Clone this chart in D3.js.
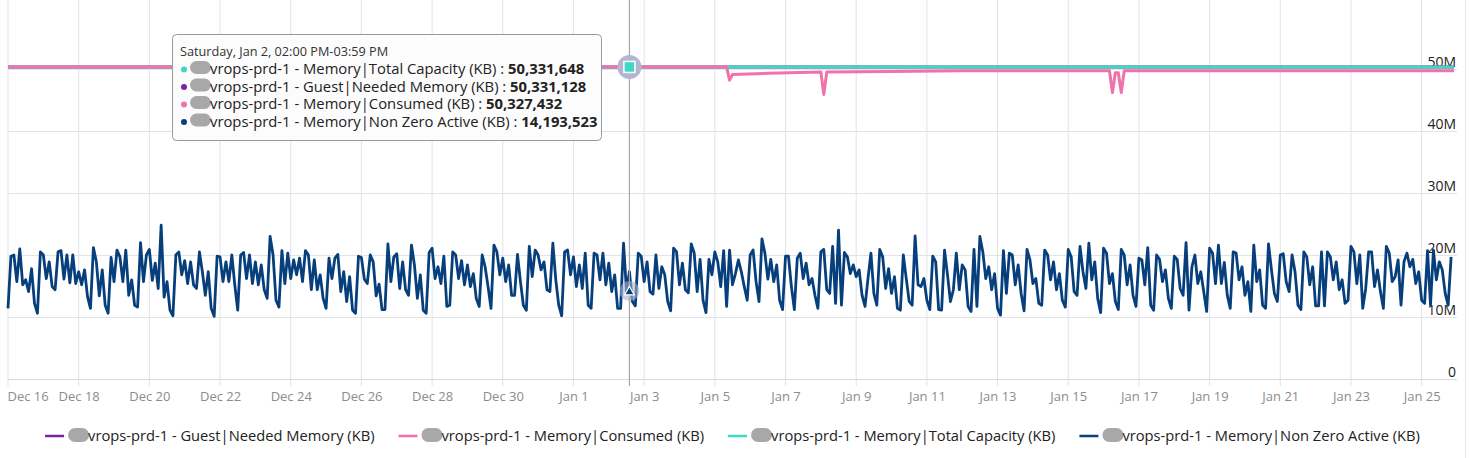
<!DOCTYPE html>
<html>
<head>
<meta charset="utf-8">
<script src="https://cdn.jsdelivr.net/npm/d3@7"></script>
<style>
  body { margin: 0; background: #fff; }
  svg { display: block; font-family: "Open Sans", sans-serif; }
</style>
</head>
<body>
<div id="graph"></div>
<script>
// tick labels along the time axis (Dec 2020 - Jan 2021)
const xTickLabels = ["2020 Dec 16", "2020 Dec 18", "2020 Dec 20", "2020 Dec 22", "2020 Dec 24", "2020 Dec 26",
    "2020 Dec 28", "2020 Dec 30", "2021 Jan 1", "2021 Jan 3", "2021 Jan 5", "2021 Jan 7", "2021 Jan 9",
    "2021 Jan 11", "2021 Jan 13", "2021 Jan 15", "2021 Jan 17", "2021 Jan 19", "2021 Jan 21", "2021 Jan 23", "2021 Jan 25"];
const yTicks = [0, 10, 20, 30, 40, 50]; // millions of KB

// Memory|Non Zero Active (KB), in millions, one sample every 2 hours from Dec 16 00:00
const nonZeroActive = [
    11.4, 19.8, 20, 15.7, 21, 15.2, 16, 14.1, 17.8, 12.2,
    10.6, 20.5, 20, 16.2, 18.9, 14.9, 14.4, 20.5, 20.7, 16.1,
    20, 15.5, 20, 15.4, 17.3, 15.2, 17.6, 13.3, 11.4, 21.2,
    18.9, 13.4, 17.6, 11.9, 10.6, 19.6, 15.7, 20.8, 19.7, 15.7,
    20.8, 13.5, 16, 11.9, 11.6, 22, 15.7, 20, 20.9, 15.9,
    18.7, 14.6, 24.8, 13.2, 15.7, 11.1, 10.2, 20, 20.5, 16.8,
    19.1, 15.4, 18.9, 15.2, 14.6, 20.5, 17.3, 13.5, 17.3, 11.4,
    10.1, 19.8, 19.7, 15.7, 18.9, 15.7, 20, 15.2, 11.1, 20,
    20.4, 16.2, 20, 15.4, 18.9, 15.2, 18.4, 14.4, 13, 23,
    20, 12.7, 11.6, 20.7, 15.4, 20.3, 16.2, 19.2, 16.8, 19.5,
    15.7, 20.7, 20, 14.4, 19.2, 14.4, 16.8, 13, 11.4, 19.5,
    16.2, 19.5, 20.1, 14.1, 17.3, 12.5, 16.5, 11.1, 10.6, 19.8,
    19.6, 16.1, 15.4, 20, 18.9, 13.4, 15.3, 11.2, 11.2, 21.8,
    15.7, 19.7, 20.2, 14.6, 18.9, 14.4, 13.5, 21.6, 18.4, 13,
    16.8, 11.1, 10.6, 20.4, 21.1, 16.2, 18.1, 15.4, 19.8, 11.7,
    11.9, 20.5, 20, 16.2, 19.1, 15.2, 18.4, 14.9, 17, 13,
    11.7, 20, 18.1, 14.9, 11.4, 21.6, 20.5, 16.8, 19.5, 15.7,
    18.4, 13.5, 13.5, 20.1, 15.7, 11.9, 11.1, 21.4, 16.5, 20.8,
    20, 17.6, 18.9, 14.4, 14.1, 21.9, 16, 11.9, 10.2, 20.5,
    20.8, 16.8, 19.7, 14.9, 18.4, 14.6, 20.3, 11.9, 11.4, 20.3,
    20, 16, 20.3, 15.2, 18.7, 14.1, 16.8, 11.4, 11.4, 21.9,
    14.19, 17.3, 12.5, 11.8, 20.3, 19.8, 15.7, 18.9, 14.1,
    13.7, 20, 14.6, 18.1, 16.8, 12.5, 11, 21.1, 20.5, 15.2,
    18.7, 14.4, 13.9, 21.8, 20.3, 14.1, 19.3, 12.7, 10.7, 19.3,
    16.8, 20.5, 18.9, 14.9, 20.7, 11.7, 20.8, 15.2, 17, 19.2,
    17.3, 14.9, 12.7, 20, 20.8, 15.7, 12.5, 22.6, 20.3, 16.1,
    19.3, 15.7, 18.4, 12.7, 11.2, 19.8, 19.8, 14.9, 11.2, 19.5,
    20.3, 16.2, 18.7, 15.2, 16.2, 13.5, 11.4, 20.5, 20.9, 14.4,
    13.8, 21.4, 12.2, 24, 11.9, 20.4, 19.7, 17, 18.4, 16.5,
    17.6, 13.5, 11.7, 16.2, 20.3, 13.8, 11.9, 20.9, 19.7, 14.6,
    17.8, 13.8, 16.5, 11.4, 11.1, 20, 16.2, 12.5, 11.9, 23.1,
    15.2, 14.9, 16.2, 12.7, 11.2, 19.8, 18.9, 11.2, 11.1, 20.8,
    16.8, 12.5, 14.4, 20.3, 14.4, 18.4, 17.6, 11.7, 10.9, 20.9,
    11.7, 23, 20.5, 16.2, 18.1, 14.4, 17, 11.4, 10.3, 20.7,
    13.8, 20.3, 20, 15.2, 18.4, 13.8, 11, 20.9, 19.2, 15.4,
    16.2, 12.2, 11.9, 20.8, 20, 16, 18.9, 14.4, 17, 12.7,
    11.6, 20.9, 19.7, 14.1, 13.5, 21.4, 17.3, 14.6, 21.9, 16,
    18.9, 13, 10.7, 21.1, 20.3, 15.4, 17, 12.5, 11.2, 20.9,
    20, 15.2, 18.4, 13.5, 11.7, 19.5, 19.2, 15.2, 21.2, 11.9,
    11.1, 20, 19.3, 15.7, 17.6, 13, 11.4, 19.8, 19.3, 14.6,
    13.5, 22, 11.1, 18.1, 20, 15.4, 17.3, 14.1, 10.9, 21.1,
    20.3, 15.4, 21.6, 15.4, 18.8, 13.5, 11.4, 20.5, 20.3, 16,
    18.1, 13.5, 15.7, 10.9, 21.6, 15.7, 17.6, 11.9, 11.4, 21.8,
    17.6, 13.8, 12.5, 20, 20.2, 15.7, 14.1, 20, 17.3, 11.9,
    11.2, 20.5, 19.7, 15.2, 18.1, 11.8, 11.8, 20.5, 11.8, 20.5,
    19.7, 16, 18.9, 14.4, 16, 12.2, 12.7, 21.4, 20.5, 15.4,
    20, 11.4, 14.6, 20.5, 20.5, 14.9, 17.6, 14.1, 11.4, 21.4,
    20.3, 15.7, 16.5, 19.2, 11.9, 18.9, 20.3, 18.1, 19.3, 15.4,
    17.3, 12.7, 12.2, 20.7, 11.9, 20.8, 16, 18.9, 17.6, 13.8,
    11.9, 19.7
];

// Memory|Consumed (KB), in millions, at the points where it changes
const consumedTimes = ["2020-12-16 00:00", "2021-01-05 08:00", "2021-01-05 10:00", "2021-01-05 12:00",
    "2021-01-06 12:00", "2021-01-08 00:00", "2021-01-08 02:00", "2021-01-08 04:00", "2021-01-10 00:00",
    "2021-01-12 00:00", "2021-01-16 04:00", "2021-01-16 06:00", "2021-01-16 08:00", "2021-01-16 10:00",
    "2021-01-16 12:00", "2021-01-16 14:00", "2021-01-25 22:00"];
const consumedValues = [50.327432, 50.327432, 48.2, 49.1, 49.3, 49.5, 45.9, 49.5, 49.6,
    49.7, 49.7, 46.2, 49.4, 49.4, 46.2, 49.7, 49.7];

// flat series, in millions
const totalCapacity = 50.331648;
const neededMemory = 50.331128;
const flatTimes = ["2020-12-16 00:00", "2021-01-25 22:00"];

// legend and hover box
const seriesNames = ["vrops-prd-1 - Guest|Needed Memory (KB)", "vrops-prd-1 - Memory|Consumed (KB)",
    "vrops-prd-1 - Memory|Total Capacity (KB)", "vrops-prd-1 - Memory|Non Zero Active (KB)"];
const seriesColors = ["#7b23a3", "#f172aa", "#3fd8c4", "#073f7c"];
const hoverTime = "2021-01-02 14:00";
const hoverTitle = "Saturday, Jan 2, 02:00 PM-03:59 PM";
const hoverRows = [
    { name: "vrops-prd-1 - Memory|Total Capacity (KB) : ", value: "50,331,648", color: "#3fd8c4" },
    { name: "vrops-prd-1 - Guest|Needed Memory (KB) : ", value: "50,331,128", color: "#7b23a3" },
    { name: "vrops-prd-1 - Memory|Consumed (KB) : ", value: "50,327,432", color: "#f172aa" },
    { name: "vrops-prd-1 - Memory|Non Zero Active (KB) : ", value: "14,193,523", color: "#073f7c" }
];

document.addEventListener("DOMContentLoaded", function () {
    const width = 1469, height = 458;
    const left = 8, right = 1457, top = 7, bottom = 379;

    const parseTick = d3.timeParse("%Y %b %d");
    const parseTime = d3.timeParse("%Y-%m-%d %H:%M");
    const start = parseTime("2020-12-16 00:00");

    const x = d3.scaleTime()
        .domain([start, parseTime("2021-01-26 00:00")])
        .range([left, right]);
    const y = d3.scaleLinear()
        .domain([0, 60])
        .range([bottom, top]);

    const svg = d3.select("#graph")
        .append("svg")
        .attr("width", width)
        .attr("height", height);

    const tickDates = xTickLabels.map(parseTick);

    // grid
    svg.append("g")
        .selectAll("line")
        .data(tickDates)
        .join("line")
        .attr("x1", d => x(d)).attr("x2", d => x(d))
        .attr("y1", 0).attr("y2", bottom + 7)
        .attr("stroke", "#e1e3e7")
        .attr("stroke-width", 1);

    svg.append("g")
        .selectAll("line")
        .data(yTicks)
        .join("line")
        .attr("x1", left).attr("x2", right)
        .attr("y1", d => y(d) + 0.5).attr("y2", d => y(d) + 0.5)
        .attr("stroke", d => d === 0 ? "#d7dade" : "#e1e3e7")
        .attr("stroke-width", 1);

    // right edge of the panel
    svg.append("line")
        .attr("x1", 1465.5).attr("x2", 1465.5)
        .attr("y1", 0).attr("y2", height)
        .attr("stroke", "#e6e6e6");

    // x axis labels
    const xAxis = svg.append("g")
        .attr("transform", `translate(0,${bottom + 11})`)
        .call(d3.axisBottom(x).tickValues(tickDates).tickFormat(d3.timeFormat("%b %-d")).tickSize(0).tickPadding(2));
    xAxis.select(".domain").remove();
    xAxis.selectAll("text")
        .attr("font-family", "Open Sans, sans-serif")
        .attr("font-size", "13px")
        .attr("fill", "#8c8c8c")
        .attr("text-anchor", (d, i) => i === 0 ? "start" : "middle")
        .attr("x", (d, i) => i === 0 ? -1 : 0);

    // y axis labels (right side, above the grid line)
    const yAxis = svg.append("g")
        .attr("transform", `translate(${right - 1},0)`)
        .call(d3.axisLeft(y).tickValues(yTicks).tickFormat(d => d === 0 ? "0" : d + "M").tickSize(0).tickPadding(0));
    yAxis.select(".domain").remove();
    yAxis.selectAll("text")
        .attr("font-family", "Open Sans, sans-serif")
        .attr("font-size", "14px")
        .attr("fill", "#222")
        .attr("dy", "-0.2em");

    const line = d3.line()
        .x(d => x(d.t))
        .y(d => y(d.v));

    const flat = v => flatTimes.map(t => ({ t: parseTime(t), v: v }));
    const consumed = consumedTimes.map((t, i) => ({ t: parseTime(t), v: consumedValues[i] }));
    const active = nonZeroActive.map((v, i) => ({ t: d3.timeHour.offset(start, i * 2), v: v }));

    svg.append("path").datum(flat(neededMemory))
        .attr("d", line).attr("fill", "none")
        .attr("stroke", seriesColors[0]).attr("stroke-width", 3);
    svg.append("path").datum(flat(totalCapacity))
        .attr("d", line).attr("fill", "none")
        .attr("stroke", seriesColors[2]).attr("stroke-width", 3);
    svg.append("path").datum(consumed)
        .attr("d", line).attr("fill", "none")
        .attr("stroke", seriesColors[1]).attr("stroke-width", 3)
        .attr("stroke-linejoin", "round");
    svg.append("path").datum(active)
        .attr("d", line).attr("fill", "none")
        .attr("stroke", seriesColors[3]).attr("stroke-width", 2.8)
        .attr("stroke-linejoin", "round");

    // hover crosshair and markers
    const hx = x(parseTime(hoverTime));
    svg.append("line")
        .attr("x1", hx).attr("x2", hx)
        .attr("y1", 0).attr("y2", bottom + 7)
        .attr("stroke", "#a7a7a7").attr("stroke-width", 1.2);

    const hoverActive = +hoverRows[3].value.replace(/,/g, "") / 1e6;
    svg.append("circle")
        .attr("cx", hx).attr("cy", y(hoverActive)).attr("r", 10)
        .attr("fill", "#aab3cc").attr("opacity", 0.6);
    svg.append("path")
        .attr("d", d3.symbol(d3.symbolTriangle, 40)())
        .attr("transform", `translate(${hx},${y(hoverActive) + 1})`)
        .attr("fill", seriesColors[3]).attr("stroke", "#fff").attr("stroke-width", 1.2);

    svg.append("circle")
        .attr("cx", hx).attr("cy", y(totalCapacity)).attr("r", 12)
        .attr("fill", "#b3b6d3");
    svg.append("rect")
        .attr("x", hx - 5.5).attr("y", y(totalCapacity) - 5.5)
        .attr("width", 11).attr("height", 11)
        .attr("fill", seriesColors[2]).attr("stroke", "#fff").attr("stroke-width", 1.5);

    // tooltip box
    const tip = svg.append("g").attr("transform", "translate(172,34)");
    tip.append("rect")
        .attr("x", 0.5).attr("y", 0.5)
        .attr("width", 429).attr("height", 106)
        .attr("rx", 4)
        .attr("fill", "#fcfcfc")
        .attr("stroke", "#9a9a9a");
    tip.append("text")
        .attr("x", 8).attr("y", 22)
        .attr("font-size", "12.7px")
        .attr("fill", "#333")
        .text(hoverTitle);
    const rows = tip.selectAll(".row")
        .data(hoverRows)
        .join("g")
        .attr("class", "row")
        .attr("transform", (d, i) => `translate(0,${40 + i * 17.5})`);
    rows.append("circle")
        .attr("cx", 12).attr("cy", -4.5).attr("r", 3)
        .attr("fill", d => d.color);
    rows.append("rect")
        .attr("x", 18).attr("y", -13).attr("width", 21).attr("height", 13).attr("rx", 6.5)
        .attr("fill", "#a8a8aa");
    const rowText = rows.append("text")
        .attr("x", 38).attr("y", 0)
        .attr("font-size", "14.8px")
        .attr("fill", "#222");
    rowText.append("tspan").text(d => d.name);
    rowText.append("tspan").attr("font-weight", "bold").text(d => d.value);

    // legend
    const legend = svg.append("g").attr("transform", "translate(0,441)");
    const items = legend.selectAll("g")
        .data(seriesNames)
        .join("g");
    items.append("line")
        .attr("x1", 0).attr("x2", 19)
        .attr("y1", -5).attr("y2", -5)
        .attr("stroke", (d, i) => seriesColors[i])
        .attr("stroke-width", 2.5);
    items.append("rect")
        .attr("x", 23).attr("y", -13).attr("width", 21).attr("height", 14).attr("rx", 7)
        .attr("fill", "#a8a8aa");
    items.append("text")
        .attr("x", 43).attr("y", 0)
        .attr("font-size", "14.7px")
        .attr("fill", "#222")
        .text(d => d);

    // place items side by side, centred under the plot
    const widths = [];
    items.each(function () { widths.push(43 + d3.select(this).select("text").node().getComputedTextLength()); });
    const gap = 24;
    const total = d3.sum(widths) + gap * (widths.length - 1);
    let cx = (left + right) / 2 - total / 2;
    items.attr("transform", (d, i) => {
        const pos = cx;
        cx += widths[i] + gap;
        return `translate(${pos},0)`;
    });
});
</script>
</body>
</html>
